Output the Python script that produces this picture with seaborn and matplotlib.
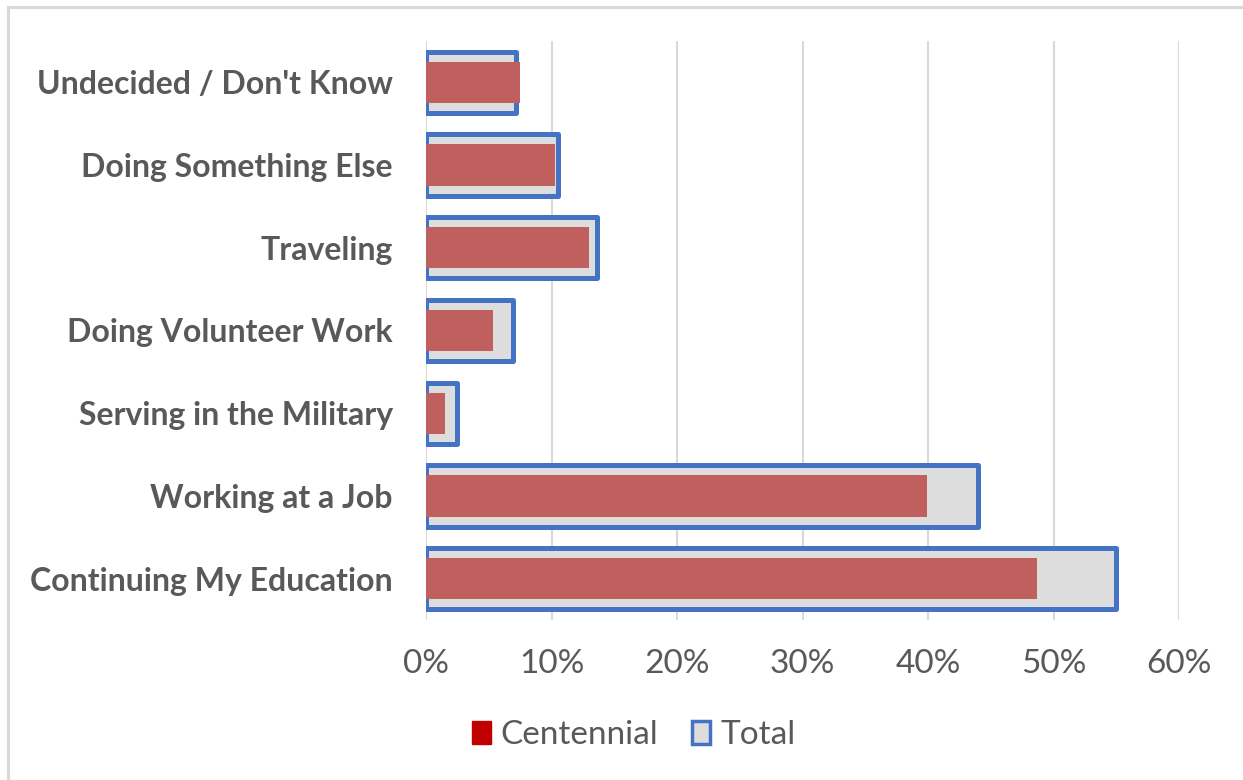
import matplotlib
matplotlib.use("Agg")
import matplotlib.pyplot as plt
import seaborn as sns
import pandas as pd
from matplotlib.patches import Patch, Rectangle
from matplotlib.ticker import PercentFormatter

categories = ["Undecided / Don't Know", "Doing Something Else", "Traveling",
              "Doing Volunteer Work", "Serving in the Military",
              "Working at a Job", "Continuing My Education"]
total = [7.2, 10.5, 13.6, 6.9, 2.5, 44.0, 55.0]
centennial = [7.5, 10.3, 13.0, 5.3, 1.5, 39.9, 48.7]
xticks = [0, 10, 20, 30, 40, 50, 60]

df = pd.DataFrame({"category": categories, "Total": total, "Centennial": centennial})

sns.set_theme(style="white")
plt.rcParams["font.family"] = ["Lato", "DejaVu Sans"]

fig = plt.figure(figsize=(12.43, 7.80), dpi=100)
ax = fig.add_axes([426/1243, 1 - 620/780, (1179-426)/1243, (620-41)/780])

text_col = "#595959"
blue = "#4472C4"
sns.barplot(data=df, x="Total", y="category", orient="h", color="#DDDDDD",
            edgecolor=blue, linewidth=3.6, width=0.74, ax=ax, zorder=2)
sns.barplot(data=df, x="Centennial", y="category", orient="h", color="#C0605E",
            saturation=1, width=0.5, ax=ax, zorder=3, linewidth=0)
for p in ax.patches:
    p.set_joinstyle("round")

ax.set_xlim(0, 60)
ax.set_xticks(xticks)
ax.xaxis.set_major_formatter(PercentFormatter(decimals=0))
ax.grid(axis="x", color="#D9D9D9", linewidth=1.5, zorder=0)
ax.set_axisbelow(True)
for s in ax.spines.values():
    s.set_visible(False)
ax.set_xlabel("")
ax.set_ylabel("")
ax.tick_params(axis="x", length=0, pad=21, labelsize=24, labelcolor=text_col)
ax.tick_params(axis="y", length=0, pad=24, labelsize=23, labelcolor=text_col)
for lbl in ax.get_yticklabels():
    lbl.set_fontweight("bold")

handles = [Patch(facecolor="#C00000", edgecolor="#C00000", label="Centennial"),
           Patch(facecolor="#DDDDDD", edgecolor=blue, linewidth=2.5, label="Total")]
leg = fig.legend(handles=handles, loc="center", bbox_to_anchor=(634/1243, 1 - 735/780),
                 ncol=2, frameon=False, fontsize=24, handlelength=0.55, handleheight=0.7,
                 handletextpad=0.3, columnspacing=1.0)
for t in leg.get_texts():
    t.set_color(text_col)

fig.patches.append(Rectangle((7.5/1243, -0.2), 1.2, 1.2 - 6.5/780, transform=fig.transFigure,
                             fill=False, edgecolor="#D9D9D9", linewidth=2.2))

fig.savefig("out.png", dpi=100)
